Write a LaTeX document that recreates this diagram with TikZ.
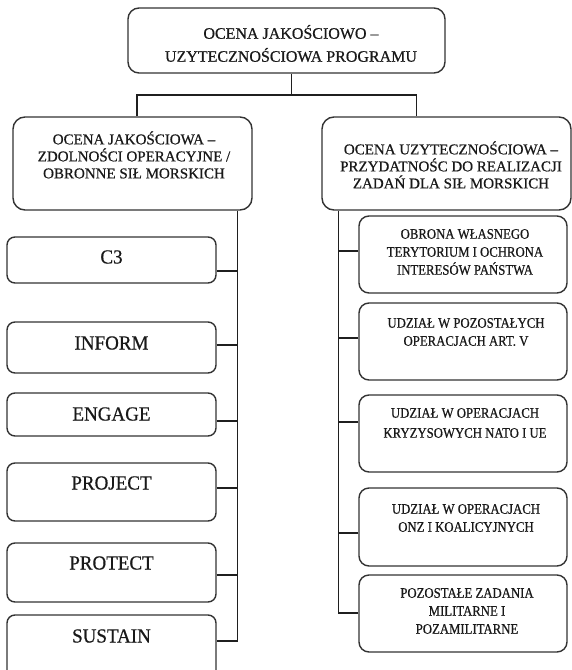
\documentclass[tikz,border=0pt]{standalone}
\usepackage{fontspec}
\setmainfont{Liberation Serif}[FakeBold=0.6]
\newfontfamily\rkfont[FakeStretch=0.88,FakeBold=0.6]{Liberation Serif}
\newfontfamily\lkfont[FakeStretch=0.95,FakeBold=0.6]{Liberation Serif}
\usetikzlibrary{calc}
\begin{document}
\begin{tikzpicture}[x=1pt,y=-1pt,
  box/.style={draw=black!80, line width=1.4pt, fill=white, inner sep=0pt, rounded corners=#1},
  box/.default=8pt,
  conn/.style={draw=black!88, line width=1.3pt},
  lbl/.style={align=center, inner sep=0pt, text=black!90},
  topf/.style={font=\fontsize{16}{23}\selectfont},
  hdf/.style={font=\fontsize{15}{17}\selectfont},
  lkf/.style={font=\lkfont\fontsize{20}{22}\selectfont},
  rkf/.style={font=\rkfont\fontsize{14.5}{18}\selectfont},
]
\useasboundingbox (0,0) rectangle (572,670);
\fill[white] (0,0) rectangle (572,670);

% boxes
\node[box=11pt, minimum width=317pt, minimum height=65pt] (top) at (286.5,40.5) {};
\node[box=12pt, minimum width=239pt, minimum height=93pt] (L) at (132.5,163.5) {};
\node[box=12pt, minimum width=249pt, minimum height=93pt] (R) at (446.5,163.5) {};

\node[box, minimum width=209pt, minimum height=46pt] (c3) at (111.5,260) {};
\node[box, minimum width=209pt, minimum height=51pt] (inform) at (111.5,347.5) {};
\node[box, minimum width=209pt, minimum height=43pt] (engage) at (111.5,414.5) {};
\node[box, minimum width=209pt, minimum height=58pt] (project) at (111.5,492) {};
\node[box, minimum width=209pt, minimum height=59pt] (protect) at (111.5,572.5) {};
\node[box, minimum width=209pt, minimum height=65pt] (sustain) at (111.5,647.5) {};

\node[box=10pt, minimum width=208pt, minimum height=77pt] (r1) at (463,254.5) {};
\node[box=10pt, minimum width=208pt, minimum height=77pt] (r2) at (463,341.5) {};
\node[box=10pt, minimum width=208pt, minimum height=77pt] (r3) at (463,433.5) {};
\node[box=10pt, minimum width=208pt, minimum height=78pt] (r4) at (463,527) {};
\node[box=10pt, minimum width=208pt, minimum height=77pt] (r5) at (463,613.5) {};

% texts
\node[lbl, topf] (ttop) at (291,43.5) {OCENA JAKOŚCIOWO –\\UZYTECZNOŚCIOWA PROGRAMU};
\node[lbl, hdf] (tL) at (134,155) {OCENA JAKOŚCIOWA –\\ZDOLNOŚCI OPERACYJNE /\\OBRONNE SIŁ MORSKICH};
\node[lbl, hdf] (tR) at (451,165) {OCENA UZYTECZNOŚCIOWA –\\PRZYDATNOŚC DO REALIZACJI\\ZADAŃ DLA SIŁ MORSKICH};

\node[lbl, lkf] (tc3) at (111.5,257) {C3};
\node[lbl, lkf] (tinform) at (111.5,343) {INFORM};
\node[lbl, lkf] (tengage) at (111.5,414) {ENGAGE};
\node[lbl, lkf] (tproject) at (111.5,483) {PROJECT};
\node[lbl, lkf] (tprotect) at (111.5,563) {PROTECT};
\node[lbl, lkf] (tsustain) at (111.5,636) {SUSTAIN};

\node[lbl, rkf] (tr1) at (465,252) {OBRONA WŁASNEGO\\TERYTORIUM I OCHRONA\\INTERESÓW PAŃSTWA};
\node[lbl, rkf] (tr2) at (466,332) {UDZIAŁ W POZOSTAŁYCH\\OPERACJACH ART. V};
\node[lbl, rkf, font=\rkfont\fontsize{14.5}{20}\selectfont] (tr3) at (465,423) {UDZIAŁ W OPERACJACH\\KRYZYSOWYCH NATO I UE};
\node[lbl, rkf] (tr4) at (466,518) {UDZIAŁ W OPERACJACH\\ONZ I KOALICYJNYCH};
\node[lbl, rkf] (tr5) at (467,611) {POZOSTAŁE ZADANIA\\MILITARNE I\\POZAMILITARNE};

% top connectors
\coordinate (tj) at ($(top.south)+(5,0)$);
\coordinate (j) at ($(tj)!0.5!(tj |- L.north)$);
\coordinate (ld) at ($(L.north)+(4.5,0)$);
\coordinate (rd) at ($(R.north west)+(95,0)$);
\draw[conn] (tj) -- (j);
\draw[conn] (ld) |- (j) -| (rd);

% left trunk
\coordinate (lt) at ($(L.south east)+(-15,0)$);
\coordinate (pc3) at ($(c3.east)+(0,11)$);
\coordinate (pinform) at ($(inform.east)+(0,-2.5)$);
\coordinate (pengage) at ($(engage.east)+(0,6.5)$);
\coordinate (pproject) at ($(project.east)+(0,-4)$);
\coordinate (pprotect) at ($(protect.east)+(0,2.5)$);
\coordinate (psustain) at ($(sustain.east)+(0,-6.5)$);
\draw[conn] (lt) -- (lt |- psustain) -- (psustain);
\foreach \p in {pc3,pinform,pengage,pproject,pprotect}
  \draw[conn] (\p) -- (\p -| lt);

% right trunk
\coordinate (rt) at ($(R.south west)+(17,0)$);
\coordinate (pr1) at ($(r1.west)+(0,-3.5)$);
\coordinate (pr2) at ($(r2.west)+(0,-3.5)$);
\coordinate (pr3) at ($(r3.west)+(0,-11.5)$);
\coordinate (pr4) at ($(r4.west)+(0,6)$);
\coordinate (pr5) at ($(r5.west)+(0,-0.5)$);
\draw[conn] (rt) -- (rt |- pr5) -- (pr5);
\foreach \p in {pr1,pr2,pr3,pr4}
  \draw[conn] (\p) -- (\p -| rt);
\end{tikzpicture}
\end{document}
